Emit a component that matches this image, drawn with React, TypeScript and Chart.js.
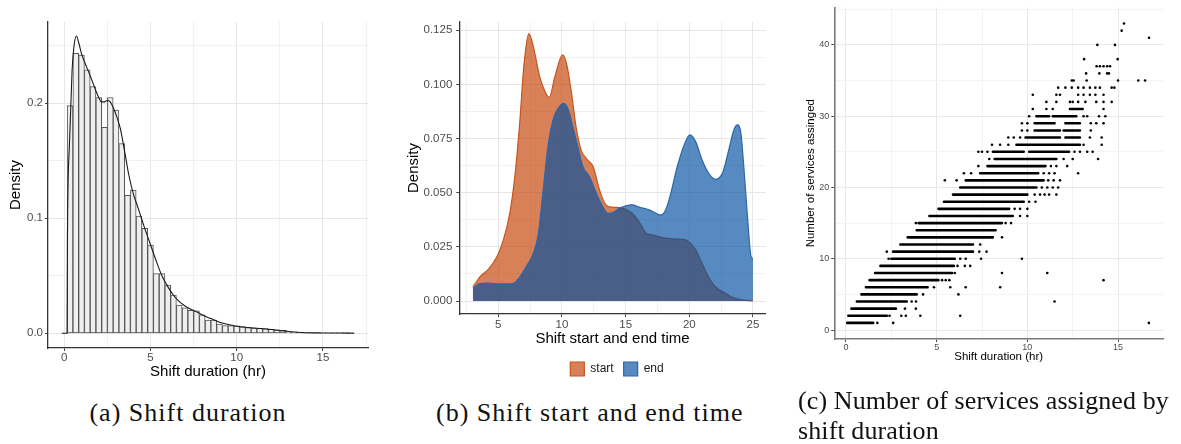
import React, { useEffect, useRef } from "react";
import { Chart, registerables } from "chart.js";
Chart.register(...registerables);

const SANS = "'Liberation Sans', Arial, Helvetica, sans-serif";
const SERIF = "'Liberation Serif', 'Times New Roman', serif";

// ---------------- Panel (a): shift duration histogram + density ----------------
const histBinCenters = [
  0.333, 0.667, 1.0, 1.333, 1.667, 2.0, 2.333, 2.667, 3.0, 3.333,
  3.667, 4.0, 4.333, 4.667, 5.0, 5.333, 5.667, 6.0, 6.333, 6.667,
  7.0, 7.333, 7.667, 8.0, 8.333, 8.667, 9.0, 9.333, 9.667, 10.0,
  10.333, 10.667, 11.0, 11.333, 11.667, 12.0, 12.333, 12.667, 13.0, 13.333,
  13.667, 14.0, 14.333, 14.667, 15.0, 15.333, 15.667, 16.0, 16.333, 16.667,
];
const histDensity = [
  0.198, 0.2435, 0.242, 0.229, 0.2145, 0.205, 0.179, 0.205, 0.194, 0.165,
  0.12, 0.1246, 0.102, 0.0913, 0.0768, 0.0519, 0.0519, 0.042, 0.0333, 0.0246,
  0.0222, 0.0199, 0.0196, 0.016, 0.0116, 0.0116, 0.0081, 0.0067, 0.0067, 0.0064,
  0.0058, 0.0049, 0.0046, 0.0043, 0.004, 0.0035, 0.003, 0.0025, 0.0015, 0.0012,
  0.0008, 0.0006, 0.0005, 0.0004, 0.0003, 0.0003, 0.0002, 0.0002, 0.0001, 0.0001,
];
const durationDensX = [
  -0.15, 0.16, 0.18, 0.3, 0.45, 0.55, 0.7, 0.85, 1.0, 1.2, 1.5, 1.8, 2.0, 2.15, 2.3,
  2.5, 2.65, 2.85, 3.05, 3.25, 3.5, 3.75, 4.0, 4.3, 4.63, 4.97, 5.31, 5.64, 6.0,
  6.32, 6.67, 7.0, 7.34, 7.67, 8.0, 8.5, 9.0, 9.5, 10.0, 10.5, 11.0, 11.5, 12.0,
  12.5, 13.0, 13.5, 14.0, 15.0, 16.0, 16.8,
];
const durationDensY = [
  0, 0, 0.078, 0.165, 0.228, 0.248, 0.2585, 0.252, 0.243, 0.235, 0.224, 0.212, 0.205, 0.2012, 0.2012,
  0.2025, 0.2015, 0.196, 0.188, 0.178, 0.158, 0.137, 0.1215, 0.108, 0.0927, 0.0783, 0.0637, 0.0507, 0.0406,
  0.0333, 0.0275, 0.0237, 0.0209, 0.0188, 0.016, 0.0128, 0.0096, 0.0076, 0.0062, 0.0052, 0.0046, 0.004, 0.0033,
  0.0025, 0.0016, 0.0009, 0.0005, 0.0003, 0.0002, 0.0001,
];
const durTicksA = [0, 5, 10, 15];
const durMinorA = [2.5, 7.5, 12.5, 17.5];
const densTicksA = [0, 0.1, 0.2];
const densMinorA = [0.05, 0.15, 0.25];

// ---------------- Panel (b): start / end time densities ----------------
const seriesNames = ["start", "end"];
const startTimeX = [
  3.0, 3.3, 3.6, 4.2, 4.9, 5.4, 5.9, 6.3, 6.7, 7.0, 7.4, 7.75, 8.25, 8.8, 9.0, 9.45,
  10.05, 10.35, 10.75, 11.1, 11.5, 12.0, 12.45, 12.95, 13.45, 14.0, 14.5, 15.0, 15.5,
  16.05, 16.6, 17.1, 17.6, 18.15, 18.9, 19.7, 20.1, 20.5, 21.0, 21.5, 22.05, 22.85,
  23.35, 24.15, 25.0,
];
const startDensity = [
  0.0066, 0.009, 0.0115, 0.0145, 0.0205, 0.0282, 0.0405, 0.0575, 0.0836, 0.108, 0.1235, 0.1175,
  0.1037, 0.0952, 0.094, 0.1037, 0.1137, 0.1098, 0.096, 0.0806, 0.0698, 0.0652, 0.062, 0.0513,
  0.0444, 0.0433, 0.0431, 0.0424, 0.0405, 0.0367, 0.0313, 0.0305, 0.0297, 0.029, 0.0286, 0.0282,
  0.0266, 0.0236, 0.0174, 0.0112, 0.0066, 0.0035, 0.0017, 0.0005, 0.0,
];
const endTimeX = [
  3.0, 3.5, 4.1, 4.9, 5.65, 6.2, 6.7, 7.2, 7.75, 8.15, 8.5, 8.9, 9.3, 9.7, 10.15, 10.5,
  10.85, 11.25, 11.65, 12.15, 12.7, 13.2, 13.6, 14.0, 14.5, 15.0, 15.5, 16.1, 16.85, 17.4,
  17.75, 18.15, 18.55, 19.05, 19.6, 20.05, 20.5, 21.0, 21.55, 22.05, 22.6, 23.1, 23.5,
  23.78, 24.05, 24.3, 24.55, 24.85, 25.0,
];
const endDensity = [
  0.0059, 0.0079, 0.0083, 0.0079, 0.0079, 0.0082, 0.0112, 0.0159, 0.022, 0.0313, 0.0498, 0.0713,
  0.0836, 0.089, 0.0913, 0.0883, 0.0806, 0.0713, 0.062, 0.0575, 0.0498, 0.0436, 0.0405, 0.0408,
  0.0428, 0.0439, 0.0444, 0.0433, 0.0421, 0.0405, 0.0397, 0.0421, 0.0498, 0.062, 0.0721, 0.0767,
  0.0736, 0.0652, 0.0587, 0.0562, 0.059, 0.0698, 0.079, 0.0813, 0.0775, 0.0605, 0.0405, 0.0205,
  0.0195,
];
const timeTicks = [5, 10, 15, 20, 25];
const timeMinor = [2.5, 7.5, 12.5, 17.5, 22.5];
const densTicksB = [0, 0.025, 0.05, 0.075, 0.1, 0.125];
const densMinorB = [0.0125, 0.0375, 0.0625, 0.0875, 0.1125];

// ---------------- Panel (c): services vs duration ----------------
const bandLevel = [1, 2, 3, 4, 5, 6, 7, 8, 9, 10, 11, 12, 13, 14, 15, 16, 17, 18, 19, 20, 21, 22, 23, 24, 25, 25, 26, 27, 27, 28, 28, 29, 29, 30, 30, 31];
const bandFrom = [0.07, 0.13, 0.3, 0.6, 0.85, 1.1, 1.3, 1.6, 1.9, 2.5, 2.6, 3.0, 3.4, 3.9, 4.0, 4.6, 5.1, 5.4, 5.9, 6.3, 6.6, 7.4, 7.8, 8.2, 8.1, 10.1, 9.4, 9.9, 12.1, 10.4, 12.0, 10.4, 12.1, 10.5, 11.4, 12.35];
const bandTo = [1.5, 2.25, 2.75, 3.35, 3.9, 4.5, 5.1, 5.85, 5.95, 6.0, 7.0, 7.0, 8.1, 8.25, 8.6, 9.2, 9.0, 9.8, 10.0, 10.5, 10.9, 10.6, 11.0, 11.6, 9.8, 12.3, 12.9, 11.8, 12.9, 11.8, 12.9, 11.5, 12.9, 11.2, 12.7, 13.05];
const outlierLevel = [1, 2, 3, 4, 5, 6, 7, 8, 9, 10, 11, 12, 13, 15, 16, 17, 18, 19, 20, 21, 22, 23, 24, 25, 26, 27, 28, 29, 30, 31, 32, 33, 34, 35, 36, 37, 38, 40, 41, 42, 43];
const outlierDuration = [
  [1.73, 2.6, 16.7],
  [2.4, 3.05, 3.3, 4.1, 6.3],
  [3.25, 3.85],
  [3.62, 3.86, 11.5],
  [4.25, 6.2],
  [4.85, 5.75, 6.6, 8.5],
  [5.3, 5.5, 5.7, 14.2],
  [6.0, 8.6, 11.1],
  [6.15, 6.55, 6.85],
  [2.35, 6.3, 6.6, 7.45, 9.7],
  [2.25, 7.35, 7.75],
  [7.4],
  [8.6],
  [3.85, 8.8, 9.1],
  [9.6, 10.0],
  [9.3, 9.6, 10.0],
  [10.1, 10.45],
  [10.4, 10.7, 10.95, 11.2, 11.6],
  [10.8, 11.1, 11.4, 11.7],
  [5.45, 6.1, 11.15, 11.45, 11.8],
  [6.5, 6.9, 10.9, 11.2, 11.5, 12.8],
  [7.3, 11.3, 11.6, 12.2],
  [7.9, 12.0, 12.5, 13.9],
  [7.3, 7.5, 7.8, 12.6, 12.9, 13.3, 13.6],
  [8.05, 8.5, 8.95, 13.1, 14.1],
  [8.95, 9.25, 9.6, 13.45, 14.1],
  [9.7, 10.0, 13.5],
  [9.7, 10.0, 13.5, 13.8, 14.2],
  [10.1, 13.1, 13.3, 13.95, 14.3],
  [10.3, 11.05, 11.4, 14.2],
  [11.05, 11.6, 12.35, 12.5, 12.8, 13.2, 13.8, 14.2, 14.65],
  [10.3, 11.6, 11.8, 12.8, 13.1, 13.45, 13.75, 14.2],
  [11.7, 12.1, 12.45, 12.8, 13.1, 13.45, 13.75, 14.0, 14.65, 14.8],
  [12.45, 12.55, 13.27, 15.0, 16.12, 16.49],
  [13.24, 13.97, 14.4, 14.5],
  [13.82, 14.0, 14.2, 14.4, 14.56],
  [13.13, 14.98],
  [13.86, 14.83],
  [16.71],
  [15.2],
  [15.33],
];
const durTicksC = [0, 5, 10, 15];
const durMinorC = [2.5, 7.5, 12.5];
const servTicks = [0, 10, 20, 30, 40];
const servMinor = [5, 15, 25, 35, 45];

// ---------------- helpers ----------------
type AxisSpec = {
  position: "left" | "bottom";
  min: number;
  max: number;
  major: number[];
  minor: number[];
  fmt: (v: number) => string;
  tickSize: number;
  tickPad: number;
  title: string;
  titleSize: number;
  titlePad: number;
  size: number;
  axisColor: string;
  axisWidth: number;
  gridMajor: string;
  gridMinor: string;
};

function makeAxis(s: AxisSpec): any {
  const isMajor = (v: number) => s.major.indexOf(v) >= 0;
  const all = [...s.major, ...s.minor].filter((v) => v >= s.min && v <= s.max).sort((a, b) => a - b);
  return {
    type: "linear",
    position: s.position,
    min: s.min,
    max: s.max,
    offset: false,
    afterBuildTicks: (sc: any) => {
      sc.ticks = all.map((v) => ({ value: v }));
    },
    afterFit: (sc: any) => {
      if (s.position === "left") sc.width = s.size;
      else sc.height = s.size;
    },
    ticks: {
      autoSkip: false,
      maxRotation: 0,
      minRotation: 0,
      padding: s.tickPad,
      color: "#4d4d4d",
      font: { size: s.tickSize, family: SANS },
      callback: (v: number) => (isMajor(v) ? s.fmt(v) : ""),
    },
    grid: {
      offset: false,
      color: (c: any) => (c.tick && isMajor(c.tick.value) ? s.gridMajor : s.gridMinor),
      lineWidth: 1,
      drawTicks: true,
      tickLength: 3,
      tickWidth: 1,
      tickColor: (c: any) => (c.tick && isMajor(c.tick.value) ? "#444444" : "rgba(0,0,0,0)"),
    },
    border: { display: true, color: s.axisColor, width: s.axisWidth },
    title: {
      display: true,
      text: s.title,
      color: "#000000",
      font: { size: s.titleSize, family: SANS },
      padding: s.position === "left" ? { top: s.titlePad, bottom: 0 } : { top: 0, bottom: s.titlePad },
    },
  };
}

function buildA(): any {
  return {
    type: "bar",
    data: {
      datasets: [
        {
          type: "line",
          label: "density",
          data: durationDensX.map((x, i) => ({ x, y: durationDensY[i] })),
          borderColor: "#1a1a1a",
          borderWidth: 1.1,
          pointRadius: 0,
          fill: false,
          cubicInterpolationMode: "monotone",
          order: 0,
        },
        {
          type: "bar",
          label: "histogram",
          data: histBinCenters.map((x, i) => ({ x, y: histDensity[i] })),
          backgroundColor: "#efefef",
          borderColor: "#555555",
          borderWidth: 1,
          borderSkipped: false,
          barPercentage: 1,
          categoryPercentage: 1,
          grouped: false,
          order: 1,
        },
      ],
    },
    options: {
      animation: false,
      responsive: false,
      devicePixelRatio: 1,
      layout: { padding: { left: 0, top: 22, right: 12, bottom: 0 } },
      plugins: { legend: { display: false }, tooltip: { enabled: false } },
      scales: {
        x: makeAxis({
          position: "bottom", min: -0.945, max: 17.61, major: durTicksA, minor: durMinorA,
          fmt: (v) => String(v), tickSize: 11.5, tickPad: 0, title: "Shift duration (hr)",
          titleSize: 15, titlePad: 2, size: 35, axisColor: "#333333", axisWidth: 1.3,
          gridMajor: "#e6e6e6", gridMinor: "#f1f1f1",
        }),
        y: makeAxis({
          position: "left", min: -0.01278, max: 0.2707, major: densTicksA, minor: densMinorA,
          fmt: (v) => v.toFixed(1), tickSize: 11.5, tickPad: 2, title: "Density",
          titleSize: 15, titlePad: 7, size: 48, axisColor: "#333333", axisWidth: 1.3,
          gridMajor: "#e6e6e6", gridMinor: "#f1f1f1",
        }),
      },
    },
  };
}

function buildB(): any {
  return {
    type: "line",
    data: {
      datasets: [
        {
          label: seriesNames[0],
          data: startTimeX.map((x, i) => ({ x, y: startDensity[i] })),
          fill: "origin",
          backgroundColor: "rgba(196,62,0,0.66)",
          borderColor: "#c4561c",
          borderWidth: 1.2,
          pointRadius: 0,
          cubicInterpolationMode: "monotone",
          order: 2,
        },
        {
          label: seriesNames[1],
          data: endTimeX.map((x, i) => ({ x, y: endDensity[i] })),
          fill: "origin",
          backgroundColor: "rgba(0,78,160,0.66)",
          borderColor: "#2a67aa",
          borderWidth: 1.2,
          pointRadius: 0,
          cubicInterpolationMode: "monotone",
          order: 1,
        },
      ],
    },
    options: {
      animation: false,
      responsive: false,
      devicePixelRatio: 1,
      layout: { padding: { left: 0, top: 22, right: 0, bottom: 0 } },
      plugins: {
        tooltip: { enabled: false },
        legend: {
          display: true,
          position: "bottom",
          reverse: true,
          labels: {
            boxWidth: 14,
            boxHeight: 14,
            padding: 10,
            color: "#1a1a1a",
            font: { size: 12, family: SANS },
          },
        },
      },
      scales: {
        x: makeAxis({
          position: "bottom", min: 1.938, max: 26.0, major: timeTicks, minor: timeMinor,
          fmt: (v) => String(v), tickSize: 11.5, tickPad: 1, title: "Shift start and end time",
          titleSize: 15, titlePad: 4, size: 38, axisColor: "#333333", axisWidth: 1.3,
          gridMajor: "#e6e6e6", gridMinor: "#f1f1f1",
        }),
        y: makeAxis({
          position: "left", min: -0.006, max: 0.12883, major: densTicksB, minor: densMinorB,
          fmt: (v) => v.toFixed(3), tickSize: 11.5, tickPad: 4, title: "Density",
          titleSize: 15, titlePad: 5, size: 59.3, axisColor: "#333333", axisWidth: 1.3,
          gridMajor: "#e6e6e6", gridMinor: "#f1f1f1",
        }),
        spacer: {
          type: "linear",
          position: "right",
          display: true,
          grid: { display: false, drawTicks: false },
          ticks: { display: false },
          border: { display: false },
          afterFit: (sc: any) => {
            sc.width = 68.3;
          },
        },
      },
    },
  };
}

function buildC(): any {
  const bandPts: any[] = [];
  bandLevel.forEach((lv, i) => {
    bandPts.push({ x: bandFrom[i], y: lv });
    bandPts.push({ x: bandTo[i], y: lv });
    bandPts.push({ x: bandTo[i], y: null });
  });
  const outPts: any[] = [];
  outlierLevel.forEach((lv, i) => {
    outlierDuration[i].forEach((d) => outPts.push({ x: d, y: lv }));
  });
  return {
    type: "scatter",
    data: {
      datasets: [
        {
          type: "line",
          label: "bands",
          data: bandPts,
          borderColor: "#000000",
          borderWidth: 2.6,
          borderCapStyle: "round",
          pointRadius: 0,
          spanGaps: false,
          fill: false,
          tension: 0,
        },
        {
          type: "scatter",
          label: "points",
          data: outPts,
          pointRadius: 1.3,
          backgroundColor: "#000000",
          borderWidth: 0,
        },
      ],
    },
    options: {
      animation: false,
      responsive: false,
      devicePixelRatio: 1,
      layout: { padding: { left: 0, top: 6, right: 18, bottom: 0 } },
      plugins: { legend: { display: false }, tooltip: { enabled: false } },
      scales: {
        x: makeAxis({
          position: "bottom", min: -0.645, max: 17.48, major: durTicksC, minor: durMinorC,
          fmt: (v) => String(v), tickSize: 9, tickPad: 0, title: "Shift duration (hr)",
          titleSize: 11.5, titlePad: 1, size: 26, axisColor: "#7a7a7a", axisWidth: 1.6,
          gridMajor: "#e8e8e8", gridMinor: "#f3f3f3",
        }),
        y: makeAxis({
          position: "left", min: -1.257, max: 45.26, major: servTicks, minor: servMinor,
          fmt: (v) => String(v), tickSize: 9, tickPad: 2, title: "Number of services assinged",
          titleSize: 11.5, titlePad: 14, size: 44.3, axisColor: "#7a7a7a", axisWidth: 1.6,
          gridMajor: "#e8e8e8", gridMinor: "#f3f3f3",
        }),
      },
    },
  };
}

function ChartCanvas(props: { build: () => any; left: number; top: number; width: number; height: number }) {
  const ref = useRef<HTMLCanvasElement | null>(null);
  useEffect(() => {
    if (!ref.current) return;
    const chart = new Chart(ref.current, props.build());
    return () => chart.destroy();
  }, []);
  return (
    <canvas
      ref={ref}
      width={props.width}
      height={props.height}
      style={{ position: "absolute", left: props.left, top: props.top, width: props.width, height: props.height }}
    />
  );
}

const captionStyle: React.CSSProperties = {
  position: "absolute",
  fontFamily: SERIF,
  fontSize: 26,
  lineHeight: "30px",
  letterSpacing: "1px",
  color: "#111",
  whiteSpace: "nowrap",
};

export default function App() {
  return (
    <div style={{ position: "absolute", left: 0, top: 0, width: 1181, height: 444, background: "#ffffff", overflow: "hidden" }}>
      <ChartCanvas build={buildA} left={0} top={0} width={380} height={383} />
      <ChartCanvas build={buildB} left={400} top={0} width={434} height={386} />
      <ChartCanvas build={buildC} left={790} top={0} width={391} height={365} />
      <div style={{ ...captionStyle, left: 38, width: 300, top: 398, textAlign: "center" }}>(a) Shift duration</div>
      <div style={{ ...captionStyle, left: 436, width: 300, top: 398, textAlign: "center" }}>(b) Shift start and end time</div>
      <div style={{ ...captionStyle, left: 798, top: 386, letterSpacing: "0.1px" }}>(c) Number of services assigned by</div>
      <div style={{ ...captionStyle, left: 798, top: 416, letterSpacing: "0.1px" }}>shift duration</div>
    </div>
  );
}
